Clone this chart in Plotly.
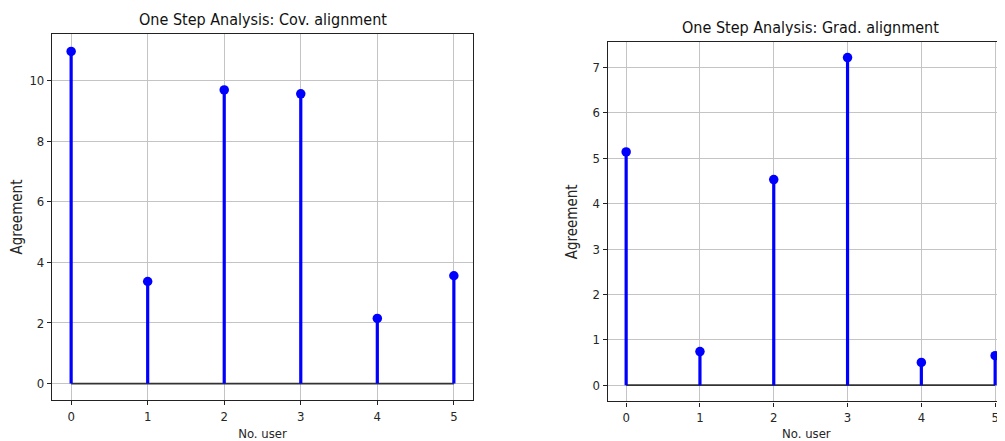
import plotly.graph_objects as go
from plotly.subplots import make_subplots

users = [0, 1, 2, 3, 4, 5]
cov_alignment = [10.97, 3.37, 9.70, 9.57, 2.15, 3.56]
grad_alignment = [5.14, 0.74, 4.53, 7.22, 0.50, 0.65]
titles = ["One Step Analysis: Cov. alignment", "One Step Analysis: Grad. alignment"]
x_label = "No. user"
y_label = "Agreement"

# the page body adds an 8px margin; the figure is sized to end at the window edge
OFF = 8
W, H = 1005 - OFF, 441 - OFF
fig = make_subplots(rows=1, cols=2)

FONT = "DejaVu Sans Condensed, Liberation Sans Narrow, DejaVu Sans"
BLUE = "#0000ff"
TXT = "#262626"


def stem_xy(xs, ys):
    sx, sy = [], []
    for x, y in zip(xs, ys):
        sx += [x, x, None]
        sy += [0, y, None]
    return sx, sy


for col, vals in [(1, cov_alignment), (2, grad_alignment)]:
    sx, sy = stem_xy(users, vals)
    fig.add_trace(go.Scatter(x=[min(users), max(users)], y=[0, 0], mode="lines",
                             line=dict(color="#333333", width=1.8), showlegend=False,
                             hoverinfo="skip"), row=1, col=col)
    fig.add_trace(go.Scatter(x=sx, y=sy, mode="lines",
                             line=dict(color=BLUE, width=3.2), showlegend=False,
                             hoverinfo="skip"), row=1, col=col)
    fig.add_trace(go.Scatter(x=users, y=vals, mode="markers",
                             marker=dict(color=BLUE, size=9.5), showlegend=False),
                  row=1, col=col)

ax_common = dict(showgrid=True, gridcolor="#c4c4c4", gridwidth=1, zeroline=False,
                 showline=True, linecolor="#222", linewidth=1.2,
                 ticks="outside", ticklen=4, tickcolor="#222", tickwidth=1,
                 tickfont=dict(family=FONT, size=13, color=TXT))


def px_x(p):
    return (p - OFF) / W


def px_y(p):
    return 1 - (p - OFF) / H


xt = dict(text=x_label, font=dict(family=FONT, size=13, color=TXT), standoff=7)
yt = dict(text=y_label, font=dict(family=FONT, size=15, color=TXT), standoff=11)

# left subplot
fig.update_xaxes(ax_common, domain=[px_x(52), px_x(473)], range=[-0.25, 5.25],
                 tickvals=users, mirror=True, row=1, col=1, title=xt)
fig.update_yaxes(ax_common, domain=[px_y(402), px_y(34)], range=[-0.55, 11.55],
                 tickvals=[0, 2, 4, 6, 8, 10], mirror=True, row=1, col=1, title=yt)
# right subplot (cut off at the window's right edge)
right_end = -0.25 + (1005 - 607.7) / (1013.6 - 607.7) * 5.5
fig.update_xaxes(ax_common, domain=[px_x(607.7), 1.0], range=[-0.25, right_end],
                 tickvals=users, mirror=True, row=1, col=2, title=xt)
fig.update_yaxes(ax_common, domain=[px_y(403.3), px_y(42.3)], range=[-0.36, 7.56],
                 tickvals=[0, 1, 2, 3, 4, 5, 6, 7], mirror=False, row=1, col=2, title=yt)

fig.add_annotation(text=titles[0], x=px_x(262.5), y=px_y(20), xref="paper", yref="paper",
                   showarrow=False, font=dict(family=FONT, size=16, color="#111"),
                   xanchor="center", yanchor="middle")
fig.add_annotation(text=titles[1], x=px_x(810.6), y=px_y(28), xref="paper", yref="paper",
                   showarrow=False, font=dict(family=FONT, size=16, color="#111"),
                   xanchor="center", yanchor="middle")

fig.update_layout(width=W, height=H, margin=dict(l=0, r=0, t=0, b=0),
                  plot_bgcolor="white", paper_bgcolor="white", showlegend=False)

fig.write_html("out.html")
